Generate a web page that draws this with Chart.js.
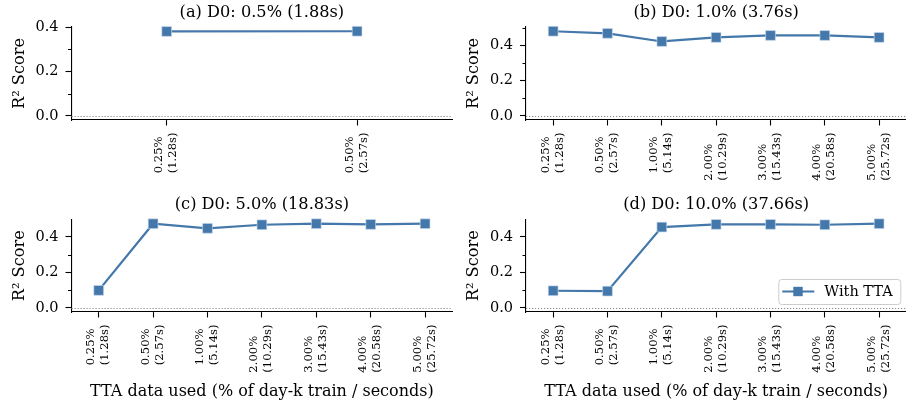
<!DOCTYPE html>
<html>
<head>
<meta charset="utf-8">
<script src="https://cdn.jsdelivr.net/npm/chart.js@4.4.1/dist/chart.umd.min.js"></script>
<style>
  html, body { margin: 0; padding: 0; background: #fff; }
  body { width: 906px; height: 405px; overflow: hidden; position: relative; }
  .panel { position: absolute; }
</style>
</head>
<body>
<div class="panel" style="left:0px;top:0px;width:460px;height:190px"><canvas id="panelA" width="460" height="190"></canvas></div>
<div class="panel" style="left:454px;top:0px;width:460px;height:190px"><canvas id="panelB" width="460" height="190"></canvas></div>
<div class="panel" style="left:0px;top:190px;width:460px;height:215px"><canvas id="panelC" width="460" height="215"></canvas></div>
<div class="panel" style="left:454px;top:190px;width:460px;height:215px"><canvas id="panelD" width="460" height="215"></canvas></div>
<script>
// data
const ttaPercent = ['0.25%', '0.50%', '1.00%', '2.00%', '3.00%', '4.00%', '5.00%'];
const ttaSeconds = ['(1.28s)', '(2.57s)', '(5.14s)', '(10.29s)', '(15.43s)', '(20.58s)', '(25.72s)'];
const panelTitles = ['(a) D0: 0.5% (1.88s)', '(b) D0: 1.0% (3.76s)', '(c) D0: 5.0% (18.83s)', '(d) D0: 10.0% (37.66s)'];
const r2A = [0.380, 0.381];
const r2B = [0.479, 0.467, 0.421, 0.444, 0.455, 0.455, 0.444];
const r2C = [0.098, 0.474, 0.448, 0.468, 0.474, 0.470, 0.474];
const r2D = [0.096, 0.094, 0.455, 0.470, 0.470, 0.468, 0.474];
const yTickValues = [0, 0.2, 0.4];
const yMinorValues = [0.1, 0.3, 0.5];
const seriesLabel = 'With TTA';
const yTitle = 'R² Score';
const xTitle = 'TTA data used (% of day-k train / seconds)';

const BLUE = '#4477AA';
const FONT = "'DejaVu Serif', serif";
Chart.defaults.font.family = FONT;
Chart.defaults.color = '#000';

// dotted line at y = 0
const zeroLine = {
  id: 'zeroLine',
  beforeDatasetsDraw(chart) {
    const {ctx, chartArea} = chart;
    const y = Math.round(chart.scales.y.getPixelForValue(0)) + 0.5;
    ctx.save();
    ctx.strokeStyle = '#8c8c8c';
    ctx.lineWidth = 1;
    ctx.setLineDash([1.2, 1.8]);
    ctx.beginPath();
    ctx.moveTo(chartArea.left, y);
    ctx.lineTo(chartArea.right, y);
    ctx.stroke();
    ctx.restore();
  }
};

// short minor ticks on the y axis
const minorTicks = {
  id: 'minorTicks',
  afterDraw(chart) {
    const {ctx, chartArea} = chart;
    const ys = chart.scales.y;
    ctx.save();
    ctx.strokeStyle = '#000';
    ctx.lineWidth = 1;
    yMinorValues.forEach(v => {
      if (v < ys.min || v > ys.max) return;
      const y = Math.round(ys.getPixelForValue(v)) + 0.5;
      ctx.beginPath();
      ctx.moveTo(chartArea.left - 3.5, y);
      ctx.lineTo(chartArea.left, y);
      ctx.stroke();
    });
    ctx.restore();
  }
};

// rotated two-line tick labels, lines start-aligned like the figure
const xTickLabels = {
  id: 'xTickLabels',
  afterDraw(chart) {
    const {ctx, chartArea} = chart;
    const xs = chart.scales.x;
    ctx.save();
    ctx.fillStyle = '#000';
    ctx.font = '11.6px ' + FONT;
    ctx.textAlign = 'left';
    ctx.textBaseline = 'middle';
    chart.data.labels.forEach((lines, i) => {
      const x = xs.getPixelForTick(i);
      const longest = Math.max(...lines.map(s => ctx.measureText(s).width));
      const yStart = chartArea.bottom + 12.5 + longest;
      lines.forEach((s, j) => {
        ctx.save();
        ctx.translate(x + (j - (lines.length - 1) / 2) * 14 - 0.5, yStart);
        ctx.rotate(-Math.PI / 2);
        ctx.fillText(s, 0, 0);
        ctx.restore();
      });
    });
    ctx.restore();
  }
};

// legend box in the lower right corner
const cornerLegend = {
  id: 'cornerLegend',
  afterDraw(chart) {
    const {ctx, chartArea} = chart;
    const ds = chart.data.datasets[0];
    const w = 122, h = 25;
    const x = chartArea.right - 6 - w;
    const y = chartArea.bottom - 8 - h;
    const cy = y + h / 2;
    ctx.save();
    ctx.fillStyle = 'rgba(255,255,255,0.8)';
    ctx.strokeStyle = '#cccccc';
    ctx.lineWidth = 1;
    ctx.beginPath();
    ctx.roundRect(x + 0.5, y + 0.5, w, h, 3);
    ctx.fill();
    ctx.stroke();
    ctx.strokeStyle = ds.borderColor;
    ctx.lineWidth = ds.borderWidth;
    ctx.beginPath();
    ctx.moveTo(x + 4, cy);
    ctx.lineTo(x + 36, cy);
    ctx.stroke();
    ctx.fillStyle = ds.pointBackgroundColor;
    ctx.fillRect(x + 15, cy - 4.7, 9.4, 9.4);
    ctx.fillStyle = '#000';
    ctx.font = '14.5px ' + FONT;
    ctx.textBaseline = 'middle';
    ctx.fillText(ds.label, x + 46, cy + 0.5);
    ctx.restore();
  }
};

function makePanel(id, title, values, cfg) {
  const top = Math.max(...values);
  const yMin = -0.05 * top;
  const yMax = top * 1.05;
  const plugins = [zeroLine, minorTicks, xTickLabels];
  if (cfg.legend) plugins.push(cornerLegend);
  new Chart(document.getElementById(id), {
    type: 'line',
    data: {
      labels: values.map((v, i) => [ttaPercent[i], ttaSeconds[i]]),
      datasets: [{
        label: seriesLabel,
        data: values,
        borderColor: BLUE,
        backgroundColor: BLUE,
        borderWidth: 2.2,
        pointStyle: 'rect',
        pointRadius: 6.9,
        pointBackgroundColor: BLUE,
        pointBorderColor: 'rgba(200,215,235,0.8)',
        pointBorderWidth: 0.8,
        tension: 0,
        clip: false
      }]
    },
    options: {
      responsive: false,
      animation: false,
      events: [],
      layout: { padding: { left: 0, right: cfg.padRight, top: 0, bottom: 0 } },
      plugins: {
        legend: { display: false },
        tooltip: { enabled: false },
        title: {
          display: true,
          text: title,
          fullSize: false,
          color: '#000',
          font: { size: 16.2, weight: 'normal', lineHeight: 1.2 },
          padding: { top: cfg.titleTop, bottom: cfg.titleBottom }
        }
      },
      scales: {
        x: {
          type: 'category',
          offset: true,
          grid: { offset: false, drawOnChartArea: false, drawTicks: true, tickLength: 5.5, tickColor: '#000', tickWidth: 1.1 },
          border: { color: '#000', width: 1.1 },
          ticks: { display: false, autoSkip: false },
          title: {
            display: cfg.xTitle,
            text: xTitle,
            color: '#000',
            font: { size: 16, lineHeight: 1.2 },
            padding: { top: 0, bottom: 3.7 }
          },
          afterFit: s => { s.height = cfg.xHeight; s.paddingLeft = 0; s.paddingRight = 0; }
        },
        y: {
          min: yMin,
          max: yMax,
          afterBuildTicks: s => { s.ticks = yTickValues.filter(v => v <= s.max + 1e-9).map(v => ({ value: v })); },
          grid: { drawOnChartArea: false, drawTicks: true, tickLength: 6, tickColor: '#000', tickWidth: 1.1 },
          border: { color: '#000', width: 1.1 },
          ticks: { padding: 7, color: '#000', font: { size: 14.5 }, callback: v => v.toFixed(1) },
          title: {
            display: true,
            text: yTitle,
            color: '#000',
            font: { size: 16.2, lineHeight: 1.2 },
            padding: { top: 10, bottom: 0 }
          },
          afterFit: s => { s.width = cfg.yWidth; }
        }
      }
    },
    plugins: plugins
  });
}

makePanel('panelA', panelTitles[0], r2A, { yWidth: 71.5, padRight: 3.5, titleTop: 3, titleBottom: 4.56, xHeight: 70, xTitle: false });
makePanel('panelB', panelTitles[1], r2B, { yWidth: 72, padRight: 3, titleTop: 3, titleBottom: 4.56, xHeight: 70, xTitle: false });
makePanel('panelC', panelTitles[2], r2C, { yWidth: 71.5, padRight: 3.5, titleTop: 5.3, titleBottom: 4.76, xHeight: 93, xTitle: true });
makePanel('panelD', panelTitles[3], r2D, { yWidth: 72, padRight: 3, titleTop: 5.3, titleBottom: 4.76, xHeight: 93, xTitle: true, legend: true });
</script>
</body>
</html>
